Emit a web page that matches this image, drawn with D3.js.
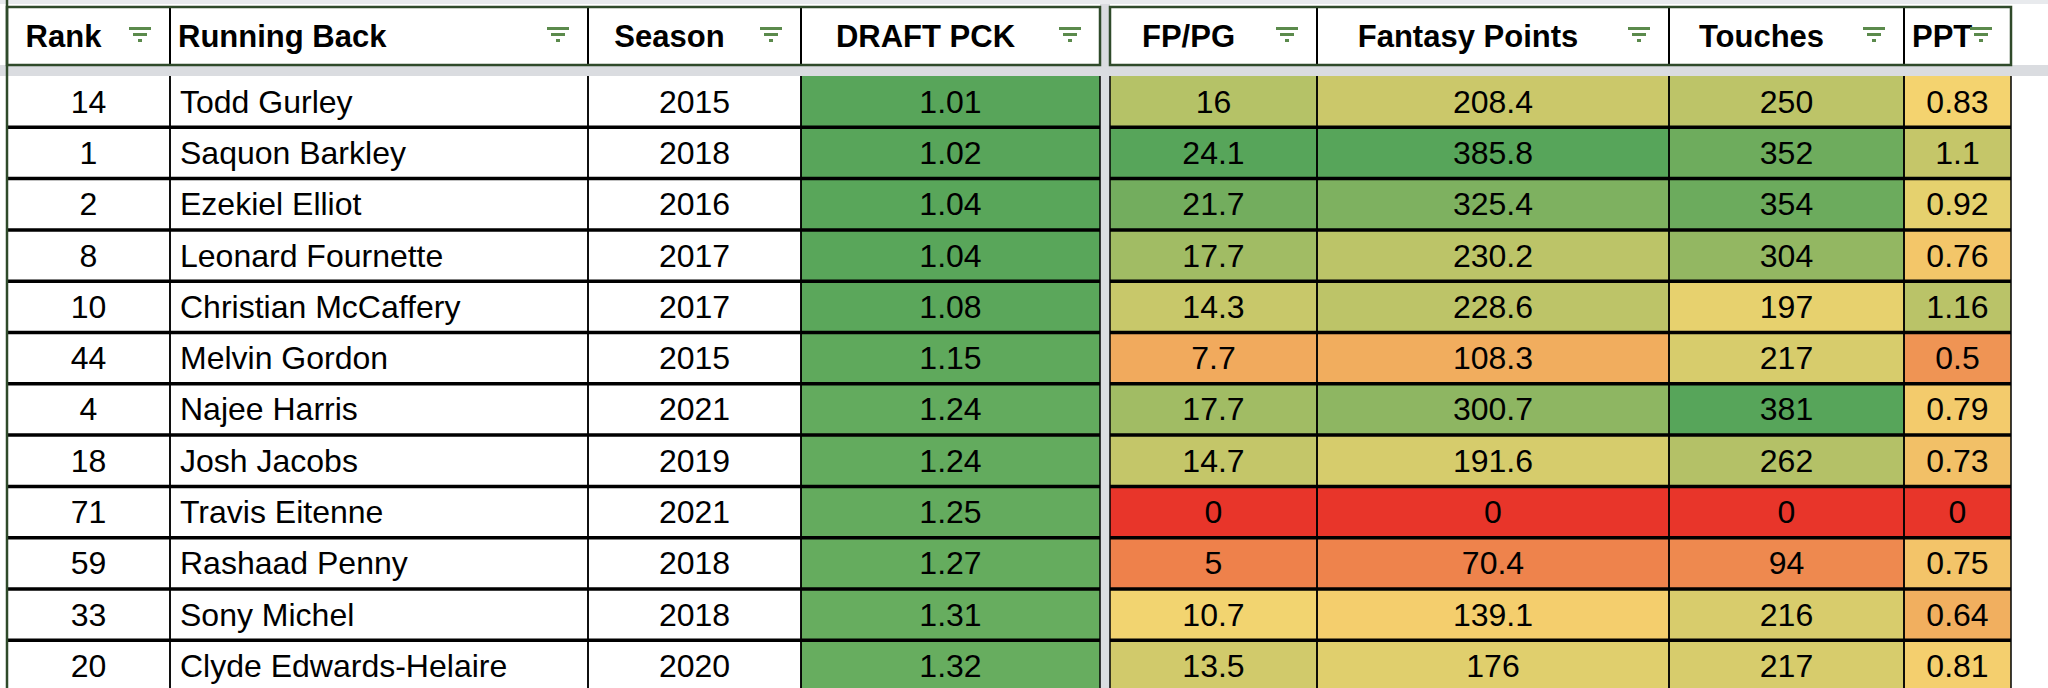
<!DOCTYPE html>
<html><head><meta charset="utf-8">
<script src="https://cdn.jsdelivr.net/npm/d3@7"></script>
<style>body{margin:0;background:#fff}svg{display:block}</style></head>
<body><script>
const headers = ["Rank","Running Back","Season","DRAFT PCK","FP/PG","Fantasy Points","Touches","PPT"];
const ranks = [14,1,2,8,10,44,4,18,71,59,33,20];
const names = ["Todd Gurley","Saquon Barkley","Ezekiel Elliot","Leonard Fournette","Christian McCaffery","Melvin Gordon","Najee Harris","Josh Jacobs","Travis Eitenne","Rashaad Penny","Sony Michel","Clyde Edwards-Helaire"];
const seasons = [2015,2018,2016,2017,2017,2015,2021,2019,2021,2018,2018,2020];
const draftPicks = ["1.01","1.02","1.04","1.04","1.08","1.15","1.24","1.24","1.25","1.27","1.31","1.32"];
const fppg = [16,24.1,21.7,17.7,14.3,7.7,17.7,14.7,0,5,10.7,13.5];
const fantasyPoints = [208.4,385.8,325.4,230.2,228.6,108.3,300.7,191.6,0,70.4,139.1,176];
const touches = [250,352,354,304,197,217,381,262,0,94,216,217];
const ppt = [0.83,1.1,0.92,0.76,1.16,0.5,0.79,0.73,0,0.75,0.64,0.81];

const W=2048,H=688;
const svg=d3.select("body").append("svg").attr("width",W).attr("height",H);
const cols=[[7,170],[170,588],[588,801],[801,1100],[1110,1317],[1317,1669],[1669,1904],[1904,2011]];
const headTop=7, headBot=65, bodyTop=76;
const rowH=51.3;
const y=d3.scaleBand().domain(d3.range(ranks.length)).range([bodyTop,bodyTop+rowH*ranks.length]);

const red="#e8352a", yel="#f4d570", grn="#57a55a";
function cs(mn,mid,mx){
  return d3.scaleLinear().domain([mn,mid,mx]).range([red,yel,grn]).interpolate(d3.interpolateRgb).clamp(true);}
const dpScale=d3.scaleLinear().domain([1.01,1.32]).range(["#58a55a","#67ad5f"]);
const columns=[
 {vals:ranks,fill:()=>"#fff",align:"middle"},
 {vals:names,fill:()=>"#fff",align:"start"},
 {vals:seasons,fill:()=>"#fff",align:"middle"},
 {vals:draftPicks,fill:v=>dpScale(+v),align:"middle"},
 {vals:fppg,fill:cs(0,10.5,24.1),align:"middle"},
 {vals:fantasyPoints,fill:cs(0,145,385.8),align:"middle"},
 {vals:touches,fill:cs(0,180,381),align:"middle"},
 {vals:ppt,fill:cs(0,0.84,1.7),align:"middle"}
];
svg.append("rect").attr("x",0).attr("y",headBot).attr("width",W).attr("height",bodyTop-headBot).attr("fill","#dadce0");
svg.append("rect").attr("x",1100).attr("y",0).attr("width",10).attr("height",H).attr("fill","#dadce0");
svg.append("rect").attr("x",0).attr("y",0).attr("width",W).attr("height",4).attr("fill","#e8eaed");

const font="'Liberation Sans',Arial,sans-serif";
columns.forEach((c,ci)=>{
  const [l,r]=cols[ci];
  const g=svg.append("g");
  g.selectAll("rect").data(c.vals).join("rect")
   .attr("x",l).attr("y",(d,i)=>y(i)).attr("width",r-l).attr("height",y.bandwidth())
   .attr("fill",d=>c.fill(d));
  g.selectAll("text").data(c.vals).join("text")
   .attr("x",c.align==="start"?l+10:(l+r)/2).attr("y",(d,i)=>y(i)+y.bandwidth()/2+11)
   .attr("text-anchor",c.align).attr("font-family",font).attr("font-size",32).attr("fill","#000")
   .text(d=>d);
  svg.append("rect").attr("x",l).attr("y",headTop).attr("width",r-l).attr("height",headBot-headTop).attr("fill","#fff");
  const isLeft = ci===1 || ci===7;
  svg.append("text").attr("x",isLeft?l+8:(l+(r-50))/2).attr("y",(headTop+headBot)/2+11)
   .attr("text-anchor",isLeft?"start":"middle").attr("font-family",font).attr("font-weight","bold")
   .attr("font-size",31).text(headers[ci]);
  const ix=r-30, iy=27;
  const ic=svg.append("g").attr("fill","#5b8a4c");
  ic.append("rect").attr("x",ix-11).attr("y",iy).attr("width",22).attr("height",3);
  ic.append("rect").attr("x",ix-7).attr("y",iy+6).attr("width",14).attr("height",3);
  ic.append("rect").attr("x",ix-2).attr("y",iy+12).attr("width",4).attr("height",3);
});
cols.forEach(([l,r])=>{
  [l,r].forEach(x=>{
    svg.append("line").attr("x1",x).attr("x2",x).attr("y1",headTop).attr("y2",headBot).attr("stroke","#000").attr("stroke-width",2);
    svg.append("line").attr("x1",x).attr("x2",x).attr("y1",bodyTop).attr("y2",H).attr("stroke","#000").attr("stroke-width",1.5);
  });
});
d3.range(1,ranks.length+1).forEach(i=>{
  const yy=bodyTop+i*rowH;
  [[7,1100],[1110,2011]].forEach(([a,b])=>svg.append("line").attr("x1",a).attr("x2",b).attr("y1",yy).attr("y2",yy).attr("stroke","#000").attr("stroke-width",3.5));
});
[[7,1100],[1110,2011]].forEach(([a,b])=>{
  svg.append("rect").attr("x",a).attr("y",headTop).attr("width",b-a).attr("height",headBot-headTop).attr("fill","none").attr("stroke","#2f4a2a").attr("stroke-width",2.5);
});
svg.append("line").attr("x1",7).attr("x2",7).attr("y1",0).attr("y2",H).attr("stroke","#2f4a2a").attr("stroke-width",2.5);
</script></body></html>
